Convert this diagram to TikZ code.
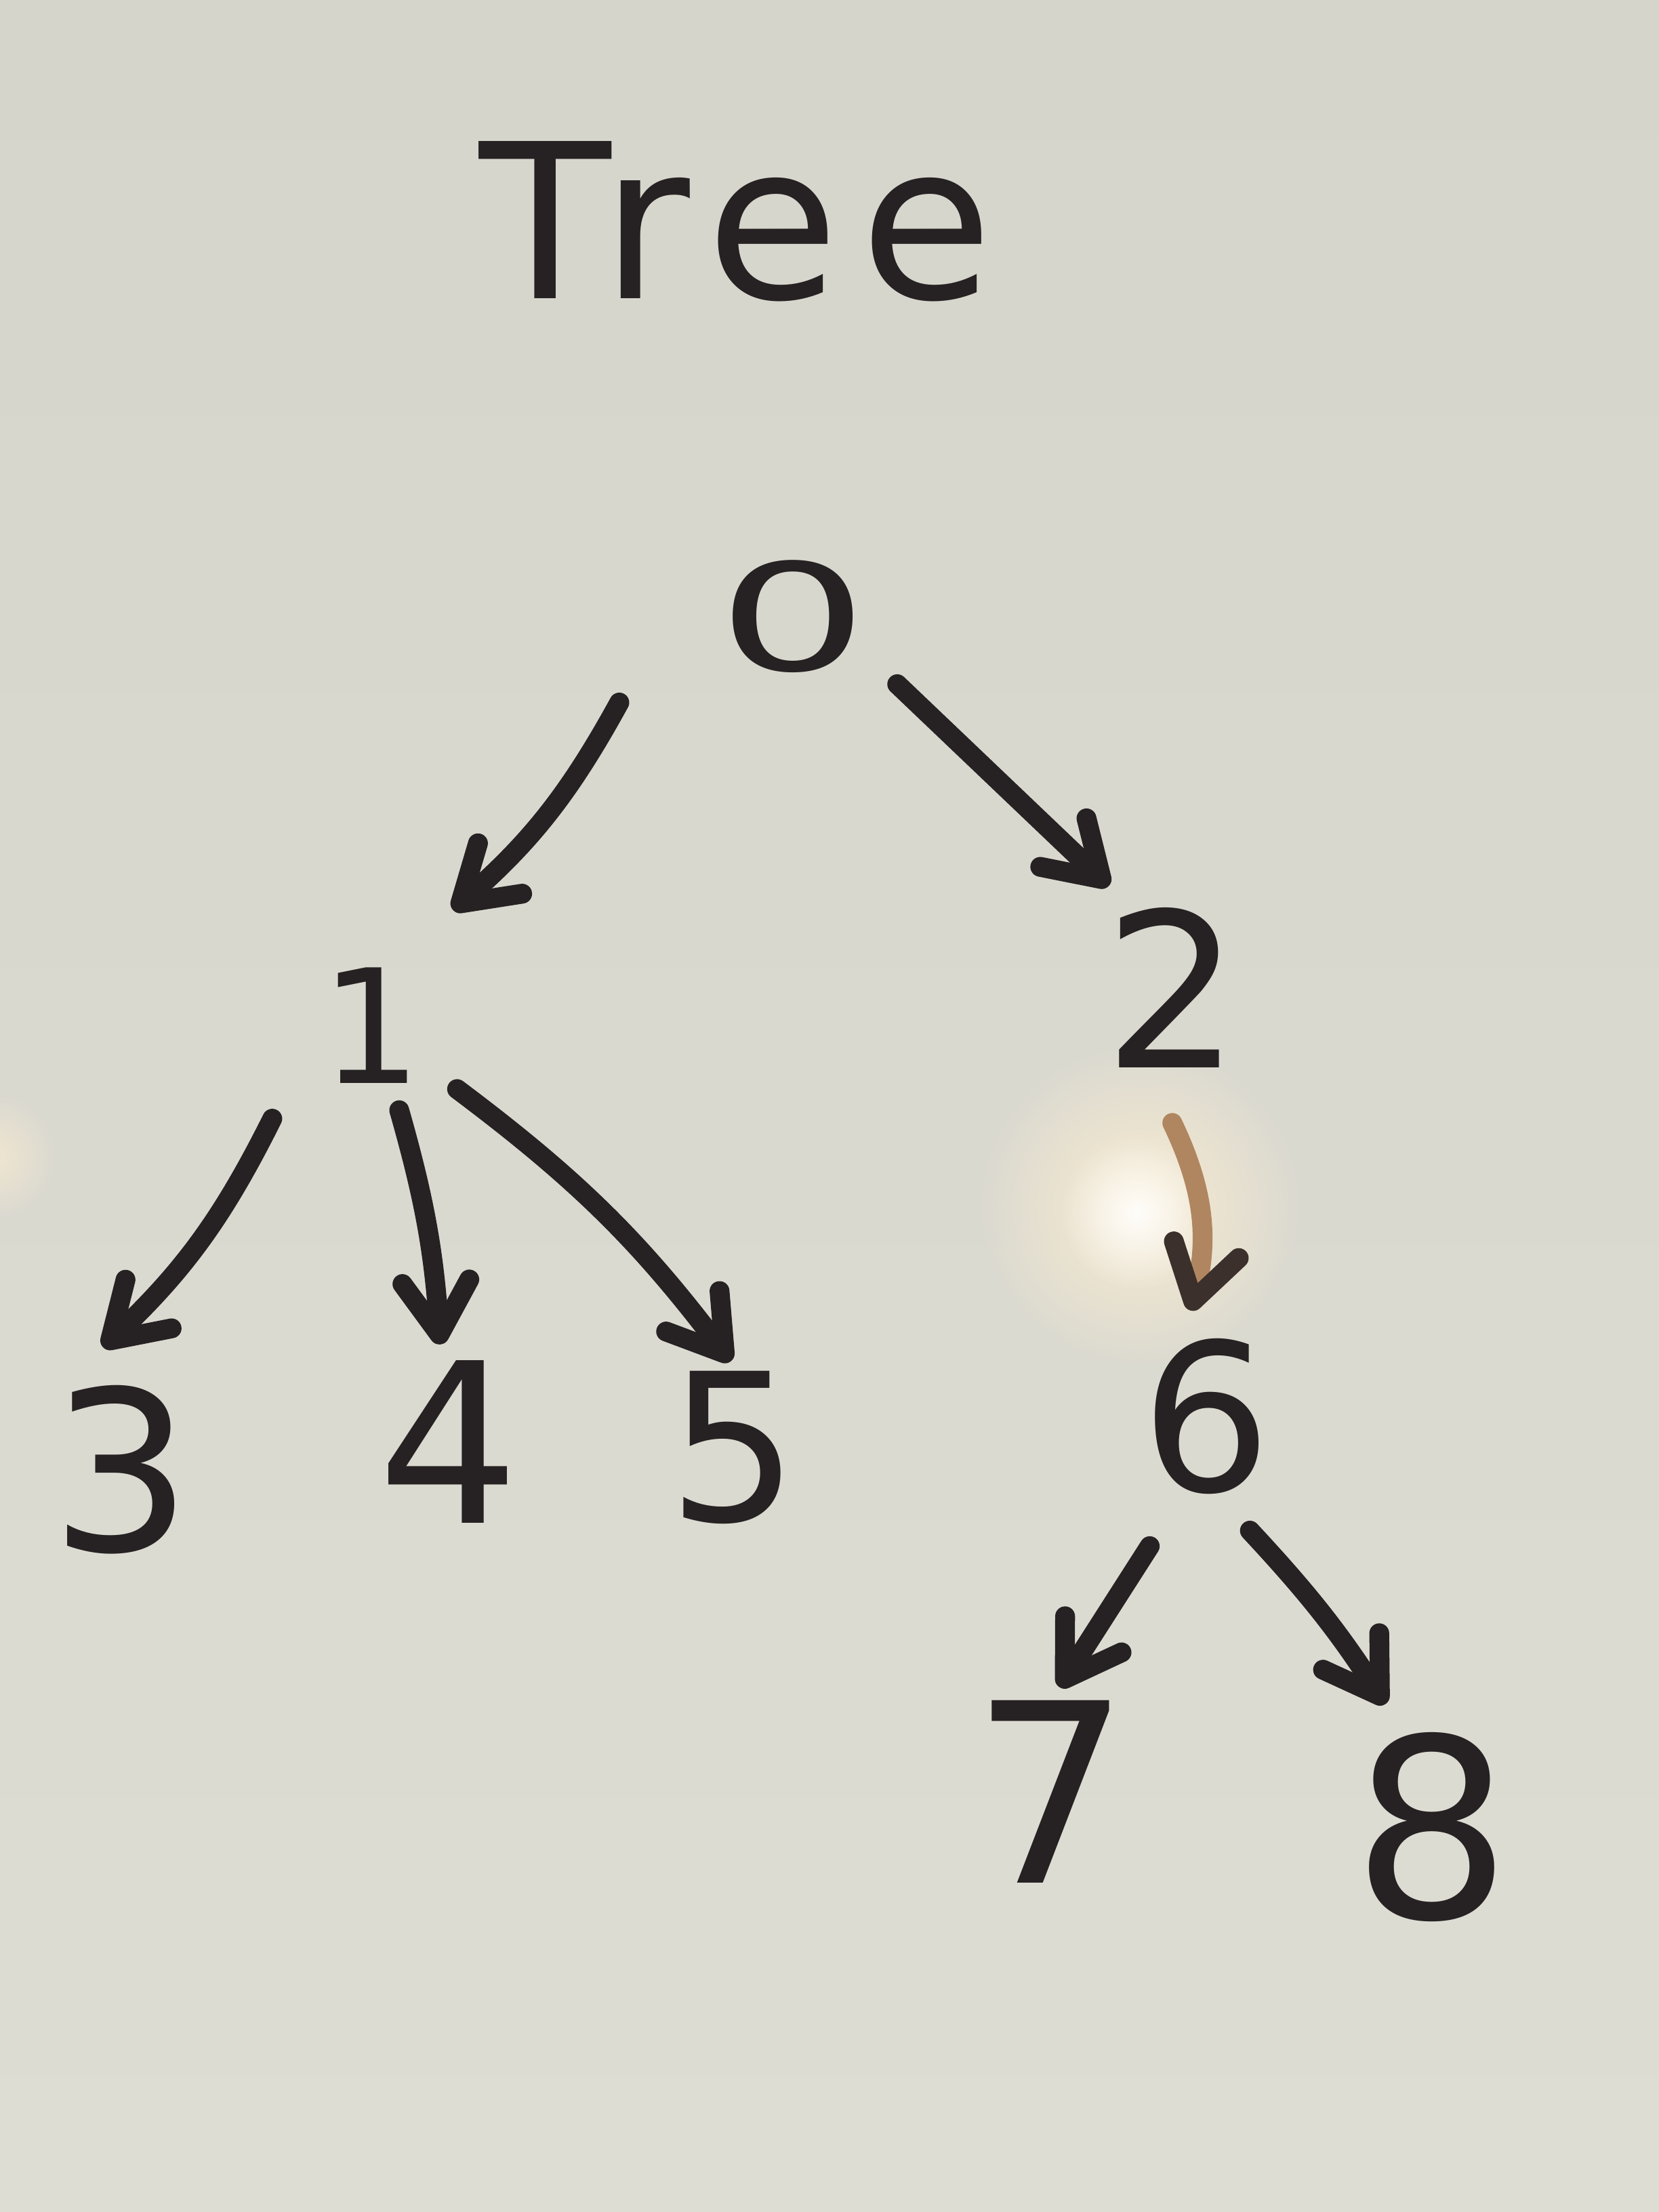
\documentclass[tikz,border=0pt]{standalone}
\usepackage{fontspec}
\setmainfont{DejaVu Sans}
\newfontfamily\titlefont[LetterSpace=10]{DejaVu Sans}
\usetikzlibrary{arrows.meta,calc,fadings}
\tikzfading[name=glow, inner color=transparent!0, outer color=transparent!100]
\definecolor{ink}{RGB}{38,33,34}
\definecolor{boardtop}{RGB}{214,213,204}
\definecolor{boardmid}{RGB}{233,232,223}
\definecolor{boardbot}{RGB}{222,221,212}
\definecolor{glare}{RGB}{250,236,208}
\definecolor{tanink}{RGB}{176,134,96}
\tikzset{
  num/.style={inner sep=0pt, text=ink, font=\fontsize{#1}{#1}\selectfont},
  num/.default=90,
  link/.style={ink, line width=8pt, line cap=round,
    -{Straight Barb[length=0.75cm,width=0.95cm,round]}},
}
\begin{document}
\begin{tikzpicture}[x=0.02cm,y=-0.02cm]
\useasboundingbox (0,0) rectangle (1176,1568);
\shade[top color=boardtop, middle color=boardmid, bottom color=boardbot] (0,0) rectangle (1176,1568);
\fill[glare, path fading=glow] (808,855) circle[radius=115];
\fill[white, path fading=glow, opacity=0.9] (806,860) circle[radius=55];
\fill[glare, path fading=glow, opacity=0.7] (-5,820) circle[radius=45];

\node[inner sep=0pt, text=ink, font=\titlefont\fontsize{87}{87}\selectfont] (title) at (522,157) {Tree};

\node[num=60, xscale=1.6, transform shape] (n0) at (562,437) {0};
\node[num=64] (n1) at (263,727) {1};
\node[num=87] (n2) at (831,700) {2};
\node[num=90] (n3) at (86,1042) {3};
\node[num=90] (n4) at (318,1022) {4};
\node[num=83] (n5) at (520,1026) {5};
\node[num=83] (n6) at (855,1004) {6};
\node[num=101] (n7) at (745,1270) {7};
\node[num=101] (n8) at (1015,1295) {8};

\draw[link] ($(n0)+(-123,61)$) to[bend left=10] ($(n1)+(58,-82)$);
\draw[link] ($(n0)+(74,48)$) -- ($(n2)+(-45,-72)$);
\draw[link] ($(n1)+(-70,66)$) to[bend left=10] ($(n3)+(-13,-87)$);
\draw[link] ($(n1)+(20,60)$) to[bend left=6] ($(n4)+(-6,-69)$);
\draw[link] ($(n1)+(61,45)$) to[bend left=8] ($(n5)+(-2,-61)$);
\draw[link, tanink, -{Straight Barb[length=0.75cm,width=0.95cm,round,color=ink!85!tanink]}] ($(n2)+(0,96)$) to[bend left=20] ($(n6)+(-11,-75)$);
\draw[link] ($(n6)+(-40,92)$) -- ($(n7)+(6,-74)$);
\draw[link] ($(n6)+(31,81)$) to[bend left=5] ($(n8)+(-33,-87)$);
\end{tikzpicture}
\end{document}
